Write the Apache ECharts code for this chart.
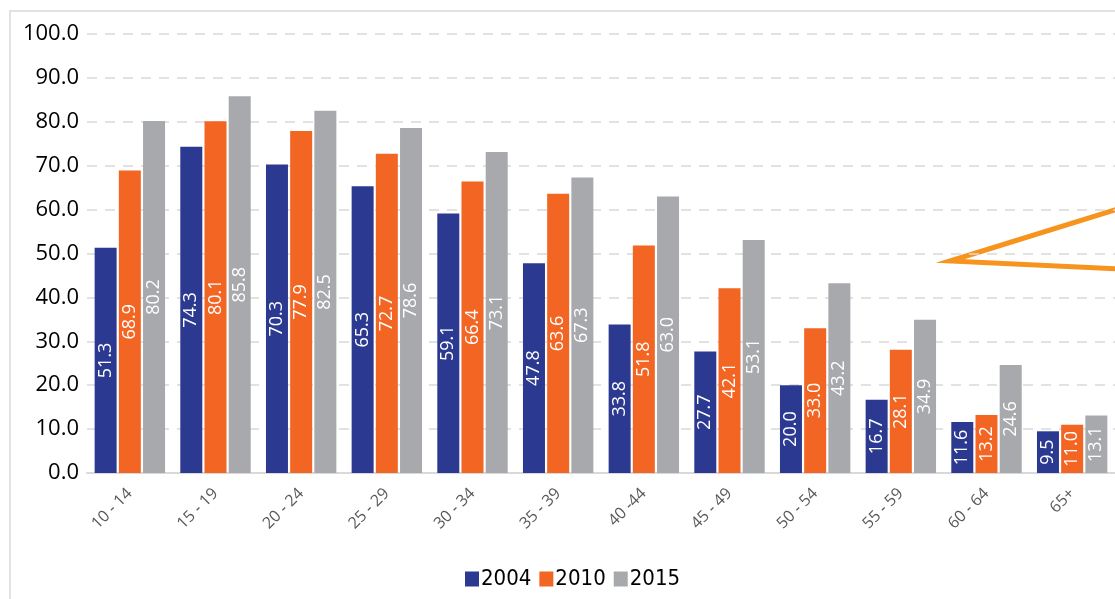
<!DOCTYPE html>
<html>
<head>
<meta charset="utf-8">
<script src="https://cdn.jsdelivr.net/npm/echarts@6/dist/echarts.min.js"></script>
<style>
  html, body { margin: 0; padding: 0; background: #fff; }
  #chart { width: 1115px; height: 599px; }
</style>
</head>
<body>
<div id="chart"></div>
<script>
const ageGroups = ["10 - 14", "15 - 19", "20 - 24", "25 - 29", "30 - 34", "35 - 39", "40 -44", "45 - 49", "50 - 54", "55 - 59", "60 - 64", "65+"];
const values2004 = [51.3, 74.3, 70.3, 65.3, 59.1, 47.8, 33.8, 27.7, 20.0, 16.7, 11.6, 9.5];
const values2010 = [68.9, 80.1, 77.9, 72.7, 66.4, 63.6, 51.8, 42.1, 33.0, 28.1, 13.2, 11.0];
const values2015 = [80.2, 85.8, 82.5, 78.6, 73.1, 67.3, 63.0, 53.1, 43.2, 34.9, 24.6, 13.1];

const palette = {
  navy: "#2b3990",
  orange: "#f26522",
  grey: "#a7a9ac",
  line: "#d9d9d9",
  label: "#595959",
};

const font = "'Open Sans', 'Noto Sans', sans-serif";

function barSeries(name, data, color) {
  return {
    name,
    type: "bar",
    data,
    barWidth: 22,
    barGap: "10%",
    itemStyle: { color },
    label: {
      show: true,
      position: "inside",
      rotate: 90,
      color: "#fff",
      fontSize: 18,
      fontFamily: font,
      formatter: (p) => p.value.toFixed(1),
    },
  };
}

const chart = echarts.init(document.getElementById("chart"), null, { renderer: "canvas" });
chart.setOption({
  animation: false,
  color: [palette.navy, palette.orange, palette.grey],
  grid: { left: 87, top: 34, width: 1034, height: 439 },
  legend: {
    top: 563,
    left: 460,
    itemWidth: 14,
    itemHeight: 15,
    itemGap: 8,
    icon: "rect",
    textStyle: { color: "#000", fontSize: 22, fontFamily: "'DejaVu Sans Condensed', 'Liberation Sans Narrow', Roboto, sans-serif", padding: [0, 0, 0, -3] },
    data: ["2004", "2010", "2015"],
  },
  xAxis: {
    type: "category",
    data: ageGroups,
    axisLine: { lineStyle: { color: palette.line, width: 2 } },
    axisTick: { show: false },
    axisLabel: {
      interval: 0,
      rotate: 45,
      color: palette.label,
      fontSize: 16,
      fontFamily: font,
      margin: 18,
    },
  },
  yAxis: {
    type: "value",
    min: 0,
    max: 100,
    interval: 10,
    axisLine: { show: false },
    axisTick: { show: false },
    axisLabel: {
      color: "#000",
      fontSize: 22,
      fontFamily: font,
      margin: 8,
      formatter: (v) => v.toFixed(1),
    },
    splitLine: { lineStyle: { color: palette.line, type: [10, 8], width: 1.5 } },
  },
  series: [
    barSeries("2004", values2004, palette.navy),
    barSeries("2010", values2010, palette.orange),
    barSeries("2015", values2015, palette.grey),
  ],
  graphic: [
    {
      type: "polyline",
      silent: true,
      shape: { points: [[10, 599], [10, 11], [1115, 11]] },
      style: { stroke: "#d9d9d9", lineWidth: 1.5, fill: null },
    },
    {
      type: "polyline",
      silent: true,
      shape: { points: [[1118, 209], [950, 261], [1118, 269]] },
      style: { stroke: "#f7941d", lineWidth: 5, fill: null, lineJoin: "miter" },
    },
  ],
});

window.addEventListener("resize", () => chart.resize());
</script>
</body>
</html>
